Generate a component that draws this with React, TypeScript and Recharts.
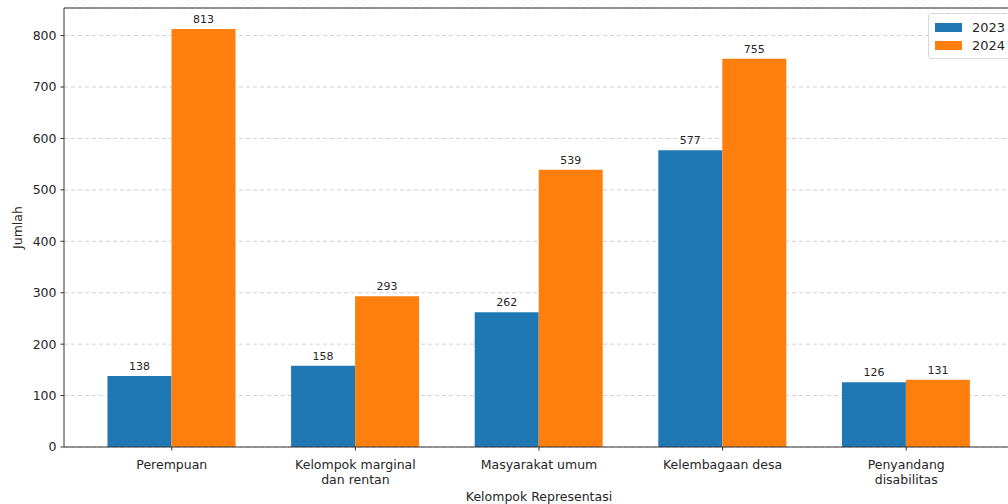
import React from 'react';
import {
  BarChart,
  Bar,
  XAxis,
  YAxis,
  CartesianGrid,
  LabelList,
  Label,
  ReferenceLine,
} from 'recharts';

const categories = [
  'Perempuan',
  'Kelompok marginal\ndan rentan',
  'Masyarakat umum',
  'Kelembagaan desa',
  'Penyandang\ndisabilitas',
];
const values2023 = [138, 158, 262, 577, 126];
const values2024 = [813, 293, 539, 755, 131];
const yTicks = [0, 100, 200, 300, 400, 500, 600, 700, 800];
const yMax = 853.65;

const rows = categories.map((name, i) => ({
  name,
  y2023: values2023[i],
  y2024: values2024[i],
}));

const FONT = '"DejaVu Sans", sans-serif';
const TEXT = '#262626';
const BLUE = '#1f77b4';
const ORANGE = '#ff7f0e';

const CategoryTick = (props: any) => {
  const { x, y, payload } = props;
  const lines = String(payload.value).split('\n');
  return (
    <g transform={`translate(${x},${y})`}>
      {lines.map((line, i) => (
        <text
          key={i}
          x={0}
          y={16 + i * 15}
          textAnchor="middle"
          fontSize={12.5}
          fontFamily={FONT}
          fill={TEXT}
        >
          {line}
        </text>
      ))}
    </g>
  );
};

// legend drawn as an overlay so it does not shrink the plot area
const LegendBox = () => (
  <div
    style={{
      position: 'absolute',
      left: 928,
      top: 13,
      border: '1px solid #d9d9d9',
      borderRadius: 3,
      background: 'rgba(255,255,255,0.9)',
      padding: '4px 30px 4px 6px',
      fontFamily: FONT,
      fontSize: 13,
      color: TEXT,
    }}
  >
    {[
      { label: '2023', color: BLUE },
      { label: '2024', color: ORANGE },
    ].map((item) => (
      <div key={item.label} style={{ display: 'flex', alignItems: 'center', height: 18 }}>
        <div style={{ width: 27, height: 9, background: item.color, marginRight: 10 }} />
        <span>{item.label}</span>
      </div>
    ))}
  </div>
);

const App: React.FC = () => {
  return (
    <div
      style={{
        position: 'fixed',
        left: 0,
        top: 0,
        width: 1008,
        height: 504,
        overflow: 'hidden',
        background: '#fff',
      }}
    >
      <BarChart
        width={1030}
        height={504}
        data={rows}
        margin={{ top: 8, right: 16, bottom: 0, left: 0 }}
        barCategoryGap={27.5}
        barGap={0}
      >
        <CartesianGrid vertical={false} stroke="#d0d0d0" strokeDasharray="4 3" />
        <XAxis
          dataKey="name"
          type="category"
          height={57}
          padding={{ left: 16, right: 16 }}
          tick={<CategoryTick />}
          tickSize={3.5}
          axisLine={{ stroke: '#333' }}
          tickLine={{ stroke: '#333' }}
          interval={0}
        >
          <Label
            value="Kelompok Representasi"
            position="insideBottom"
            offset={3}
            fontSize={12.5}
            fontFamily={FONT}
            fill={TEXT}
          />
        </XAxis>
        <YAxis
          type="number"
          domain={[0, yMax]}
          ticks={yTicks}
          width={64}
          tickSize={3.5}
          tickMargin={4}
          axisLine={{ stroke: '#333' }}
          tickLine={{ stroke: '#333' }}
          tick={{ fontSize: 12.5, fontFamily: FONT, fill: TEXT }}
        >
          <Label
            content={(p: any) => {
              const vb = p.viewBox || {};
              const cx = 17;
              const cy = (vb.y ?? 8) + (vb.height ?? 439) / 2;
              return (
                <text
                  x={cx}
                  y={cy}
                  transform={`rotate(-90, ${cx}, ${cy})`}
                  textAnchor="middle"
                  dominantBaseline="central"
                  fontSize={12.5}
                  fontFamily={FONT}
                  fill={TEXT}
                >
                  Jumlah
                </text>
              );
            }}
          />
        </YAxis>
        <ReferenceLine y={yMax} stroke="#333" strokeWidth={1} ifOverflow="visible" />
        <Bar dataKey="y2023" name="2023" fill={BLUE} isAnimationActive={false}>
          <LabelList
            dataKey="y2023"
            position="top"
            offset={6}
            fontSize={11}
            fontFamily={FONT}
            fill={TEXT}
          />
        </Bar>
        <Bar dataKey="y2024" name="2024" fill={ORANGE} isAnimationActive={false}>
          <LabelList
            dataKey="y2024"
            position="top"
            offset={6}
            fontSize={11}
            fontFamily={FONT}
            fill={TEXT}
          />
        </Bar>
      </BarChart>
      <LegendBox />
    </div>
  );
};

export default App;
